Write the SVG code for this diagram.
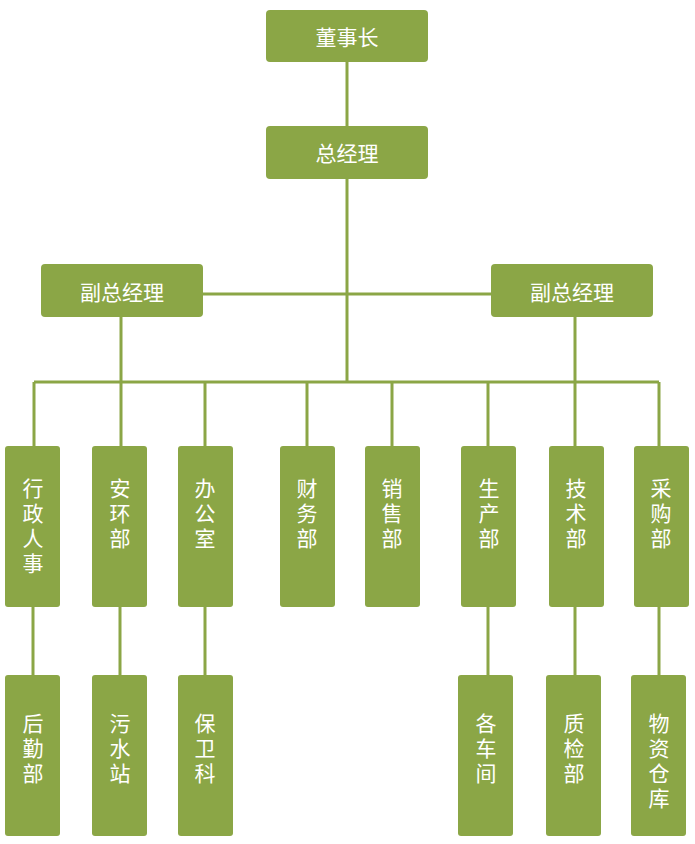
<svg xmlns="http://www.w3.org/2000/svg" width="695" height="844" viewBox="0 0 695 844">
<style>
.b{fill:#8BA646}
.t{fill:#fff;font-family:"Noto Sans CJK SC",sans-serif;font-size:21px;text-anchor:middle;dominant-baseline:central}
.c{stroke:#8BA646;stroke-width:3;fill:none}
</style>
<rect width="695" height="844" fill="#fff"/>
<g id="connectors" class="c">
<path d="M347 62V382M203 294H491M121 317V446M575 317V446M34 382H659M34 382V446M205 382V446M307 382V446M392 382V446M488 382V446M659 382V446"/>
<path d="M33 607V675M120 607V675M205 607V675M488 607V675M575 607V675M659 607V675"/>
</g>
<g id="n1"><rect class="b" x="266" y="10" width="162" height="52" rx="4"/><text class="t" x="347" y="36">董事长</text></g>
<g id="n2"><rect class="b" x="266" y="126" width="162" height="53" rx="4"/><text class="t" x="347" y="152">总经理</text></g>
<g id="n3"><rect class="b" x="41" y="264" width="162" height="53" rx="4"/><text class="t" x="122" y="291">副总经理</text></g>
<g id="n4"><rect class="b" x="491" y="264" width="162" height="53" rx="4"/><text class="t" x="572" y="291">副总经理</text></g>
<g id="a1"><rect class="b" x="5" y="446" width="55" height="161" rx="3"/><text class="t"><tspan x="33" y="487">行</tspan><tspan x="33" y="512">政</tspan><tspan x="33" y="537">人</tspan><tspan x="33" y="562">事</tspan></text></g>
<g id="a2"><rect class="b" x="92" y="446" width="55" height="161" rx="3"/><text class="t"><tspan x="120" y="487">安</tspan><tspan x="120" y="512">环</tspan><tspan x="120" y="537">部</tspan></text></g>
<g id="a3"><rect class="b" x="178" y="446" width="55" height="161" rx="3"/><text class="t"><tspan x="205" y="487">办</tspan><tspan x="205" y="512">公</tspan><tspan x="205" y="537">室</tspan></text></g>
<g id="a4"><rect class="b" x="280" y="446" width="55" height="161" rx="3"/><text class="t"><tspan x="307" y="487">财</tspan><tspan x="307" y="512">务</tspan><tspan x="307" y="537">部</tspan></text></g>
<g id="a5"><rect class="b" x="365" y="446" width="55" height="161" rx="3"/><text class="t"><tspan x="392" y="487">销</tspan><tspan x="392" y="512">售</tspan><tspan x="392" y="537">部</tspan></text></g>
<g id="a6"><rect class="b" x="461" y="446" width="55" height="161" rx="3"/><text class="t"><tspan x="489" y="487">生</tspan><tspan x="489" y="512">产</tspan><tspan x="489" y="537">部</tspan></text></g>
<g id="a7"><rect class="b" x="549" y="446" width="55" height="161" rx="3"/><text class="t"><tspan x="576" y="487">技</tspan><tspan x="576" y="512">术</tspan><tspan x="576" y="537">部</tspan></text></g>
<g id="a8"><rect class="b" x="634" y="446" width="55" height="161" rx="3"/><text class="t"><tspan x="661" y="487">采</tspan><tspan x="661" y="512">购</tspan><tspan x="661" y="537">部</tspan></text></g>
<g id="b1"><rect class="b" x="5" y="675" width="55" height="161" rx="3"/><text class="t"><tspan x="33" y="722">后</tspan><tspan x="33" y="747">勤</tspan><tspan x="33" y="772">部</tspan></text></g>
<g id="b2"><rect class="b" x="92" y="675" width="55" height="161" rx="3"/><text class="t"><tspan x="120" y="722">污</tspan><tspan x="120" y="747">水</tspan><tspan x="120" y="772">站</tspan></text></g>
<g id="b3"><rect class="b" x="178" y="675" width="55" height="161" rx="3"/><text class="t"><tspan x="205" y="722">保</tspan><tspan x="205" y="747">卫</tspan><tspan x="205" y="772">科</tspan></text></g>
<g id="b4"><rect class="b" x="458" y="675" width="55" height="161" rx="3"/><text class="t"><tspan x="486" y="722">各</tspan><tspan x="486" y="747">车</tspan><tspan x="486" y="772">间</tspan></text></g>
<g id="b5"><rect class="b" x="546" y="675" width="55" height="161" rx="3"/><text class="t"><tspan x="574" y="722">质</tspan><tspan x="574" y="747">检</tspan><tspan x="574" y="772">部</tspan></text></g>
<g id="b6"><rect class="b" x="631" y="675" width="55" height="161" rx="3"/><text class="t"><tspan x="659" y="722">物</tspan><tspan x="659" y="747">资</tspan><tspan x="659" y="772">仓</tspan><tspan x="659" y="797">库</tspan></text></g>
</svg>
